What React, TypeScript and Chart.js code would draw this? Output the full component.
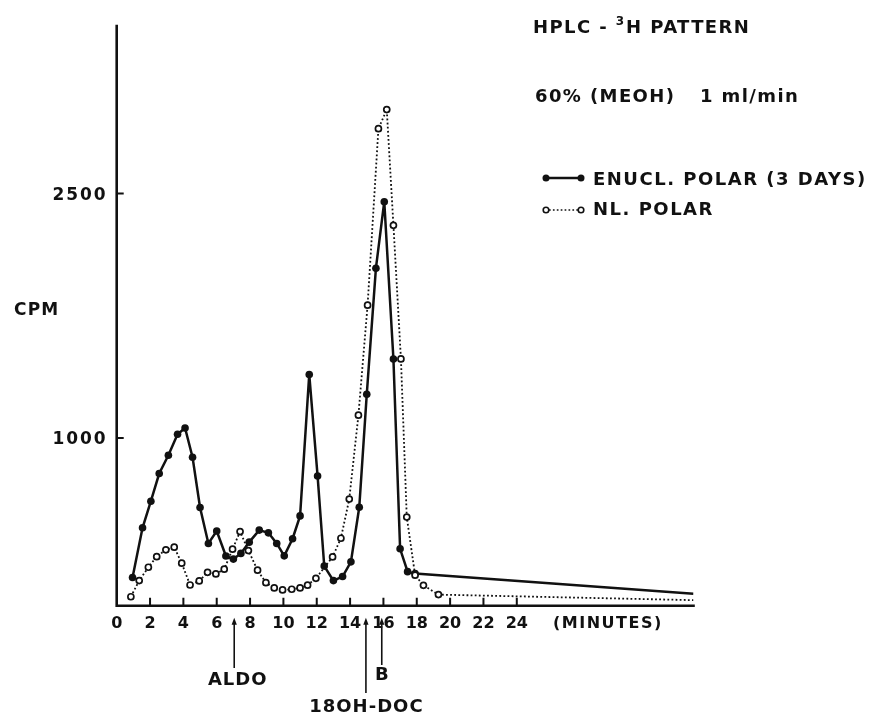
import React, { useEffect, useRef } from 'react';
import { Chart, registerables } from 'chart.js';

Chart.register(...registerables);

// ---- data ----
const enuclTime = [0.95, 1.55, 2.05, 2.55, 3.1, 3.65, 4.1, 4.55, 5.0, 5.5, 6.0, 6.55, 7.0, 7.45, 7.95, 8.55, 9.1, 9.6, 10.05, 10.55, 11.0, 11.55, 12.05, 12.45, 13.0, 13.55, 14.05, 14.55, 15.0, 15.55, 16.05, 16.6, 17.0, 17.45, 17.9, 34.6];
const enuclCpm = [144, 449, 612, 782, 894, 1023, 1061, 882, 574, 353, 429, 276, 257, 292, 361, 435, 418, 353, 277, 382, 522, 1390, 767, 214, 125, 150, 240, 575, 1268, 2042, 2450, 1485, 320, 180, 168, 45];

const nlTime = [0.85, 1.35, 1.9, 2.4, 2.95, 3.45, 3.9, 4.4, 4.95, 5.45, 5.95, 6.45, 6.95, 7.4, 7.9, 8.45, 8.95, 9.45, 9.95, 10.5, 11.0, 11.45, 11.95, 12.95, 13.45, 13.95, 14.5, 15.05, 15.7, 16.2, 16.6, 17.05, 17.4, 17.9, 18.4, 19.3, 34.6];
const nlCpm = [26, 125, 207, 272, 314, 330, 232, 98, 123, 176, 166, 195, 318, 426, 309, 189, 112, 80, 68, 72, 80, 97, 139, 270, 385, 625, 1140, 1815, 2898, 3015, 2305, 1485, 515, 158, 96, 39, 5];

const xTickValues = [0, 2, 4, 6, 8, 10, 12, 14, 16, 18, 20, 22, 24];
const yTickValues = [1000, 2500];
const markerTimes = [7.05, 14.95, 15.9];
const markerLabels = ['ALDO', '18OH-DOC', 'B'];

const seriesNames = ['ENUCL. POLAR (3 DAYS)', 'NL. POLAR'];
const titleParts = ['HPLC - ', '3', 'H PATTERN'];
const conditionParts = ['60% (MEOH)', '1 ml/min'];
const yAxisTitle = 'CPM';
const xAxisTitle = '(MINUTES)';

const INK = '#111111';
const FONT = '"DejaVu Sans", "Liberation Sans", Arial, sans-serif';

function font(size: number) {
  return `bold ${size}px ${FONT}`;
}

function drawText(ctx: any, text: string, x: number, y: number, size: number, spacing: number, align: 'left' | 'center' | 'right') {
  ctx.font = font(size);
  ctx.letterSpacing = `${spacing}px`;
  ctx.textAlign = 'left';
  ctx.textBaseline = 'alphabetic';
  const w = ctx.measureText(text).width - spacing;
  let sx = x;
  if (align === 'center') sx = x - w / 2;
  else if (align === 'right') sx = x - w;
  ctx.fillText(text, sx, y);
  return sx + w + spacing;
}

const decorPlugin = {
  id: 'decor',
  beforeDatasetsDraw(chart: any) {
    const { ctx, chartArea: a, scales } = chart;
    const xs = scales.x;
    const ys = scales.y;
    ctx.save();
    ctx.strokeStyle = INK;
    ctx.lineWidth = 2.6;
    ctx.lineCap = 'square';
    ctx.beginPath();
    ctx.moveTo(a.left, a.top);
    ctx.lineTo(a.left, a.bottom);
    ctx.lineTo(a.right, a.bottom);
    ctx.stroke();
    ctx.lineWidth = 2;
    ctx.lineCap = 'butt';
    ctx.beginPath();
    for (const v of xTickValues) {
      if (v === 0) continue;
      const px = xs.getPixelForValue(v);
      ctx.moveTo(px, a.bottom);
      ctx.lineTo(px, a.bottom - 8);
    }
    for (const v of yTickValues) {
      const py = ys.getPixelForValue(v);
      ctx.moveTo(a.left, py);
      ctx.lineTo(a.left + 7, py);
    }
    ctx.stroke();
    ctx.restore();
  },
  afterDraw(chart: any) {
    const { ctx, chartArea: a, scales } = chart;
    const xs = scales.x;
    const ys = scales.y;
    ctx.save();
    ctx.fillStyle = INK;
    ctx.strokeStyle = INK;

    // x tick labels
    for (const v of xTickValues) {
      drawText(ctx, String(v), xs.getPixelForValue(v), a.bottom + 22, 16, 0, 'center');
    }
    drawText(ctx, xAxisTitle, 553, a.bottom + 22, 16, 1.5, 'left');

    // y tick labels
    for (const v of yTickValues) {
      drawText(ctx, String(v), a.left - 11, ys.getPixelForValue(v) + 6.3, 17, 2, 'right');
    }
    drawText(ctx, yAxisTitle, 14, 315, 17, 1.2, 'left');

    // title block
    let cx = drawText(ctx, titleParts[0], 533, 33, 18, 1.4, 'left');
    cx = drawText(ctx, titleParts[1], cx, 25, 12, 0, 'left');
    drawText(ctx, titleParts[2], cx + 2, 33, 18, 1.4, 'left');
    drawText(ctx, conditionParts[0], 535, 102, 18, 1.4, 'left');
    drawText(ctx, conditionParts[1], 700, 102, 18, 1.4, 'left');

    // legend
    ctx.lineWidth = 2.4;
    ctx.setLineDash([]);
    ctx.beginPath();
    ctx.moveTo(546, 178);
    ctx.lineTo(581, 178);
    ctx.stroke();
    for (const px of [546, 581]) {
      ctx.beginPath();
      ctx.arc(px, 178, 3.5, 0, Math.PI * 2);
      ctx.fill();
    }
    drawText(ctx, seriesNames[0], 593, 185, 18, 1.5, 'left');

    ctx.lineWidth = 1.7;
    ctx.setLineDash([1.7, 2.2]);
    ctx.beginPath();
    ctx.moveTo(549, 210);
    ctx.lineTo(578, 210);
    ctx.stroke();
    ctx.setLineDash([]);
    ctx.lineWidth = 1.6;
    for (const px of [546, 581]) {
      ctx.beginPath();
      ctx.arc(px, 210, 2.8, 0, Math.PI * 2);
      ctx.fillStyle = '#ffffff';
      ctx.fill();
      ctx.stroke();
    }
    ctx.fillStyle = INK;
    drawText(ctx, seriesNames[1], 593, 215, 18, 1.5, 'left');

    // retention markers
    const lineBottoms = [668, 693, 665];
    const labelBaselines = [685, 712, 680];
    markerTimes.forEach((t, i) => {
      const px = xs.getPixelForValue(t);
      const tip = a.bottom + 12;
      ctx.lineWidth = 1.6;
      ctx.beginPath();
      ctx.moveTo(px, tip + 5);
      ctx.lineTo(px, lineBottoms[i]);
      ctx.stroke();
      ctx.beginPath();
      ctx.moveTo(px, tip);
      ctx.lineTo(px - 2.6, tip + 7);
      ctx.lineTo(px + 2.6, tip + 7);
      ctx.closePath();
      ctx.fill();
      drawText(ctx, markerLabels[i], px + (i === 0 ? 3 : 0), labelBaselines[i], 18, 1, 'center');
    });
    ctx.restore();
  },
};

export default function App() {
  const canvasRef = useRef<HTMLCanvasElement | null>(null);

  useEffect(() => {
    const canvas = canvasRef.current;
    if (!canvas) return;
    const enuclData = enuclTime.map((t, i) => ({ x: t, y: enuclCpm[i] }));
    const nlData = nlTime.map((t, i) => ({ x: t, y: nlCpm[i] }));
    const chart = new Chart(canvas, {
      type: 'line',
      data: {
        datasets: [
          {
            label: seriesNames[1],
            data: nlData,
            borderColor: INK,
            borderWidth: 1.8,
            borderDash: [1.8, 2.3],
            backgroundColor: '#ffffff',
            pointRadius: nlData.map((_, i) => (i === nlData.length - 1 ? 0 : 3.0)),
            pointBackgroundColor: '#ffffff',
            pointBorderColor: INK,
            pointBorderWidth: 1.7,
            tension: 0,
            fill: false,
          },
          {
            label: seriesNames[0],
            data: enuclData,
            borderColor: INK,
            borderWidth: 2.5,
            backgroundColor: INK,
            pointRadius: enuclData.map((_, i) => (i === enuclData.length - 1 ? 0 : 3.8)),
            pointBackgroundColor: INK,
            pointBorderColor: INK,
            pointBorderWidth: 0,
            tension: 0,
            fill: false,
          },
        ],
      },
      options: {
        animation: false,
        responsive: false,
        devicePixelRatio: 1,
        layout: { padding: { left: 116.7, right: 181.5, top: 26, bottom: 108.3 } },
        plugins: { legend: { display: false }, tooltip: { enabled: false }, title: { display: false } },
        events: [],
        scales: {
          x: { type: 'linear', min: 0, max: 34.6, display: false },
          y: { type: 'linear', min: -29, max: 3528, display: false },
        },
      },
      plugins: [decorPlugin],
    } as any);
    return () => chart.destroy();
  }, []);

  return (
    <div style={{ position: 'fixed', left: 0, top: 0, width: 875, height: 714, background: '#ffffff' }}>
      <canvas ref={canvasRef} width={875} height={714} style={{ display: 'block', width: 875, height: 714 }} />
    </div>
  );
}
